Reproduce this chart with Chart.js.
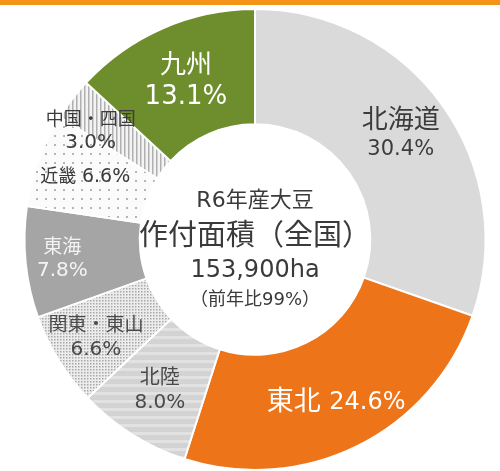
<!DOCTYPE html>
<html lang="ja">
<head>
<meta charset="UTF-8">
<title>R6年産大豆 作付面積</title>
<script src="https://cdn.jsdelivr.net/npm/chart.js"></script>
<style>
  body { margin: 0; background: #fff; }
  .wrap { position: relative; width: 500px; height: 471px; }
  .topbar { position: absolute; left: 0; top: 0; width: 500px; height: 5px; background: #f39418; }
  canvas { position: absolute; left: 0; top: 0; }
</style>
</head>
<body>
<div class="wrap">
  <canvas id="areaChart" width="500" height="471"></canvas>
  <div class="topbar"></div>
</div>
<script>
// data (clockwise from the top)
var regions = ['北海道', '東北', '北陸', '関東・東山', '東海', '近畿', '中国・四国', '九州'];
var shares = [30.4, 24.6, 8.0, 6.6, 7.8, 6.6, 3.0, 13.1];
var centerLines = ['R6年産大豆', '作付面積（全国）', '153,900ha', '（前年比99%）'];

var FONT = '"DejaVu Sans", "Noto Sans CJK JP", sans-serif';

// small fill patterns like the print original
function makePattern(size, draw) {
    var c = document.createElement('canvas');
    c.width = size; c.height = size;
    var g = c.getContext('2d');
    draw(g, size);
    return g.createPattern(c, 'repeat');
}
var waves = makePattern(8, function (g, s) {
    g.fillStyle = '#d3d3d3'; g.fillRect(0, 0, s, s);
    g.fillStyle = '#e2e2e2'; g.fillRect(0, 0, s, 3);
});
var fineDots = makePattern(3, function (g, s) {
    g.fillStyle = '#ececec'; g.fillRect(0, 0, s, s);
    g.fillStyle = '#a8a8a8'; g.fillRect(0, 0, 1.5, 1.5);
});
var sparseDots = makePattern(9, function (g, s) {
    g.fillStyle = '#fbfbfb'; g.fillRect(0, 0, s, s);
    g.fillStyle = '#b5b5b5'; g.fillRect(0, 0, 2, 2);
});
var vStripes = makePattern(4, function (g, s) {
    g.fillStyle = '#f4f4f4'; g.fillRect(0, 0, s, s);
    g.fillStyle = '#b0b0b0'; g.fillRect(0, 0, 1.5, s);
});

var fills = ['#dadada', '#ed7419', waves, fineDots, '#a5a5a5', sparseDots, vStripes, '#6e8d2c'];

// label look per slice: [radius factor in ring, angle shift (deg), name size, value size, color, one line?]
var labelStyle = [
    [0.55, 0, 26, 21, '#3c3c3c', false],
    [0.58, 0, 27, 24, '#fff', true],
    [0.55, 0, 20, 20, '#4a4a4a', false],
    [0.62, 0, 19, 20, '#4a4a4a', false],
    [0.68, 0, 19, 20, '#f4f4f4', false],
    [0.57, 0, 18, 19, '#3c3c3c', true],
    [0.71, -4, 18, 20, '#3c3c3c', false],
    [0.5, 0, 26, 26, '#fff', false]
];

var sliceLabels = {
    id: 'sliceLabels',
    afterDatasetsDraw: function (chart) {
        var ctx = chart.ctx;
        var arcs = chart.getDatasetMeta(0).data;
        ctx.save();
        ctx.textAlign = 'center';
        ctx.textBaseline = 'middle';
        arcs.forEach(function (arc, i) {
            var p = arc.getProps(['x', 'y', 'startAngle', 'endAngle', 'innerRadius', 'outerRadius'], true);
            var st = labelStyle[i];
            var mid = (p.startAngle + p.endAngle) / 2 + st[1] * Math.PI / 180;
            var r = p.innerRadius + (p.outerRadius - p.innerRadius) * st[0];
            var x = p.x + Math.cos(mid) * r;
            var y = p.y + Math.sin(mid) * r;
            var val = shares[i].toFixed(1) + '%';
            ctx.fillStyle = st[4];
            if (st[5]) {
                ctx.font = st[2] + 'px ' + FONT;
                var w1 = ctx.measureText(regions[i] + ' ').width;
                ctx.font = st[3] + 'px ' + FONT;
                var w2 = ctx.measureText(val).width;
                var left = x - (w1 + w2) / 2;
                ctx.textAlign = 'left';
                ctx.font = st[2] + 'px ' + FONT;
                ctx.fillText(regions[i], left, y);
                ctx.font = st[3] + 'px ' + FONT;
                ctx.fillText(val, left + w1, y);
                ctx.textAlign = 'center';
            } else {
                ctx.font = st[2] + 'px ' + FONT;
                ctx.fillText(regions[i], x, y - st[2] * 0.58);
                ctx.font = st[3] + 'px ' + FONT;
                ctx.fillText(val, x, y + st[3] * 0.62);
            }
        });
        ctx.restore();
    }
};

var centerText = {
    id: 'centerText',
    afterDatasetsDraw: function (chart) {
        var arc = chart.getDatasetMeta(0).data[0];
        var ctx = chart.ctx;
        var sizes = [22, 29, 24, 18];
        var offs = [-38, -2, 31, 61];
        ctx.save();
        ctx.textAlign = 'center';
        ctx.textBaseline = 'middle';
        ctx.fillStyle = '#3a3a3a';
        centerLines.forEach(function (t, i) {
            ctx.font = sizes[i] + 'px ' + FONT;
            ctx.fillText(t, arc.x, arc.y + offs[i]);
        });
        ctx.restore();
    }
};

var ctx = document.getElementById('areaChart').getContext('2d');
var areaChart = new Chart(ctx, {
    type: 'doughnut',
    data: {
        labels: regions,
        datasets: [{
            data: shares,
            backgroundColor: fills,
            borderColor: '#fff',
            borderWidth: 2
        }]
    },
    options: {
        responsive: false,
        animation: false,
        cutout: '50%',
        layout: { padding: { top: 8, bottom: 0, left: 23, right: 13 } },
        plugins: {
            legend: { display: false },
            tooltip: { enabled: false }
        }
    },
    plugins: [sliceLabels, centerText]
});
</script>
</body>
</html>
